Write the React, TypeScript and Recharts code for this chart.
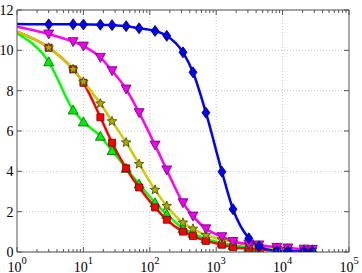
import React from 'react';
import { LineChart, Line, XAxis, YAxis, CartesianGrid, ReferenceLine } from 'recharts';

const X_VALUES = [1, 3, 7, 10, 18, 27, 44, 69, 120, 180, 316, 447, 700, 1220, 1790, 3100, 4400, 8200, 12000, 21000, 28000];
const BLUE = [11.3, 11.29, 11.29, 11.28, 11.27, 11.25, 11.2, 11.09, 10.96, 10.72, 9.9, 8.91, 6.91, 3.98, 2.12, 0.68, 0.28, 0.05, 0.04, 0.03, 0.03];
const MAGENTA = [11.17, 10.81, 10.43, 10.21, 9.65, 8.99, 8.08, 6.91, 5.3, 4.07, 2.44, 1.78, 1.15, 0.76, 0.52, 0.4, 0.35, 0.23, 0.2, 0.14, 0.13];
const YELLOW = [10.92, 10.13, 9.06, 8.44, 7.36, 6.48, 5.43, 4.36, 3.08, 2.28, 1.45, 1.15, 0.84, 0.62, 0.5, 0.36, 0.3, 0.2, 0.16, 0.12, 0.11];
const RED = [10.92, 10.13, 9.06, 8.39, 6.68, 5.42, 4.15, 3.2, 2.21, 1.6, 1.01, 0.79, 0.55, 0.36, 0.24, 0.16, 0.13, 0.08, 0.06, 0.05, 0.05];
const GREEN = [10.84, 9.43, 7.04, 6.45, 5.74, 5.03, 4.15, 3.37, 2.44, 1.87, 1.17, 0.93, 0.65, 0.45, 0.33, 0.23, 0.18, 0.12, 0.09, 0.07, 0.06];

const MAJOR_X = [1, 10, 100, 1000, 10000, 100000];
const X_EXPONENTS = ['0', '1', '2', '3', '4', '5'];
const MINOR_X = [
  2, 3, 4, 5, 6, 7, 8, 9,
  20, 30, 40, 50, 60, 70, 80, 90,
  200, 300, 400, 500, 600, 700, 800, 900,
  2000, 3000, 4000, 5000, 6000, 7000, 8000, 9000,
  20000, 30000, 40000, 50000, 60000, 70000, 80000, 90000,
];
const ALL_X_TICKS = [...MAJOR_X, ...MINOR_X].sort((a, b) => a - b);
const GRID_X = [10, 100, 1000, 10000];
const Y_TICKS = [0, 2, 4, 6, 8, 10, 12];
const Y_LABELS = ['0', '2', '4', '6', '8', '10', '12'];

const data = X_VALUES.map((x, i) => ({
  x,
  blue: BLUE[i],
  magenta: MAGENTA[i],
  yellow: YELLOW[i],
  red: RED[i],
  green: GREEN[i],
}));

const FONT = "'Liberation Serif', 'Times New Roman', serif";
const AXIS_COLOR = '#555555';
const GRID_COLOR = '#c4c4c4';

function XTick(props: any) {
  const { x, y, payload, side } = props;
  const v = payload.value;
  const idx = MAJOR_X.indexOf(v);
  const major = idx >= 0;
  const len = major ? 5 : 3;
  const dir = side === 'top' ? 1 : -1;
  return (
    <g>
      <line x1={x} y1={y} x2={x} y2={y + dir * len} stroke={AXIS_COLOR} strokeWidth={1} />
      {major && side !== 'top' && (
        <text x={x} y={y + 19.5} textAnchor="middle" fontFamily={FONT} fontSize={14} fill="#000">
          10<tspan dy={-8} fontSize={10.5}>{X_EXPONENTS[idx]}</tspan>
        </text>
      )}
    </g>
  );
}

function YTick(props: any) {
  const { x, y, payload, side } = props;
  const idx = Y_TICKS.indexOf(payload.value);
  const dir = side === 'right' ? -1 : 1;
  return (
    <g>
      <line x1={x} y1={y} x2={x + dir * 5} y2={y} stroke={AXIS_COLOR} strokeWidth={1} />
      {side !== 'right' && (
        <text x={x - 3.5} y={y + 5} textAnchor="end" fontFamily={FONT} fontSize={14} fill="#000">
          {Y_LABELS[idx]}
        </text>
      )}
    </g>
  );
}

type Shape = 'diamond' | 'down' | 'up' | 'square' | 'star';

function starPoints(cx: number, cy: number, ro: number, ri: number) {
  const pts: string[] = [];
  for (let k = 0; k < 10; k++) {
    const r = k % 2 === 0 ? ro : ri;
    const a = -Math.PI / 2 + (k * Math.PI) / 5;
    pts.push(`${cx + r * Math.cos(a)},${cy + r * Math.sin(a)}`);
  }
  return pts.join(' ');
}

function makeDot(shape: Shape, fill: string, edge: string) {
  return (p: any) => {
    const { cx, cy, index } = p;
    const key = `m-${shape}-${index}`;
    if (index === 0 || cx == null || cy == null) return <g key={key} />;
    let pts = '';
    if (shape === 'diamond') pts = `${cx},${cy - 5.5} ${cx + 4},${cy} ${cx},${cy + 5.5} ${cx - 4},${cy}`;
    if (shape === 'down') pts = `${cx - 5},${cy - 4} ${cx + 5},${cy - 4} ${cx},${cy + 5}`;
    if (shape === 'up') pts = `${cx - 5},${cy + 4} ${cx + 5},${cy + 4} ${cx},${cy - 5}`;
    if (shape === 'square') pts = `${cx - 3.5},${cy - 3.5} ${cx + 3.5},${cy - 3.5} ${cx + 3.5},${cy + 3.5} ${cx - 3.5},${cy + 3.5}`;
    if (shape === 'star') pts = starPoints(cx, cy, 5, 2.2);
    return <polygon key={key} points={pts} fill={fill} stroke={edge} strokeWidth={0.8} />;
  };
}

export default function App() {
  return (
    <div style={{ position: 'absolute', left: 0, top: 0, width: 362, height: 273, background: '#fff' }}>
      <LineChart width={362} height={273} data={data} margin={{ top: 0, right: 0, bottom: 0, left: 0 }}>
        <CartesianGrid vertical={false} stroke={GRID_COLOR} strokeDasharray="1 2" />
        {GRID_X.map((g) => (
          <ReferenceLine key={`g${g}`} x={g} stroke={GRID_COLOR} strokeDasharray="1 2" />
        ))}
        <XAxis
          dataKey="x"
          type="number"
          scale="log"
          domain={[1, 100000]}
          allowDataOverflow
          ticks={ALL_X_TICKS}
          interval={0}
          height={21}
          tickSize={0}
          tickMargin={0}
          tickLine={false}
          axisLine={{ stroke: AXIS_COLOR }}
          tick={(p: any) => <XTick {...p} side="bottom" />}
        />
        <XAxis
          xAxisId="top"
          orientation="top"
          dataKey="x"
          type="number"
          scale="log"
          domain={[1, 100000]}
          allowDataOverflow
          ticks={ALL_X_TICKS}
          interval={0}
          height={10}
          tickSize={0}
          tickMargin={0}
          tickLine={false}
          axisLine={{ stroke: AXIS_COLOR }}
          tick={(p: any) => <XTick {...p} side="top" />}
        />
        <YAxis
          type="number"
          domain={[0, 12]}
          allowDataOverflow
          ticks={Y_TICKS}
          interval={0}
          width={17}
          tickSize={0}
          tickMargin={0}
          tickLine={false}
          axisLine={{ stroke: AXIS_COLOR }}
          tick={(p: any) => <YTick {...p} side="left" />}
        />
        <YAxis
          yAxisId="right"
          orientation="right"
          type="number"
          domain={[0, 12]}
          allowDataOverflow
          ticks={Y_TICKS}
          interval={0}
          width={13}
          tickSize={0}
          tickMargin={0}
          tickLine={false}
          axisLine={{ stroke: AXIS_COLOR }}
          tick={(p: any) => <YTick {...p} side="right" />}
        />
        <Line dataKey="green" type="monotone" stroke="#00ff00" strokeWidth={2.5} dot={makeDot('up', '#00ee00', '#006600')} activeDot={false} isAnimationActive={false} />
        <Line dataKey="red" type="monotone" stroke="#ff0000" strokeWidth={2.5} dot={makeDot('square', '#ff0000', '#770000')} activeDot={false} isAnimationActive={false} />
        <Line dataKey="yellow" type="monotone" stroke="#cccc00" strokeWidth={2.5} dot={makeDot('star', '#aaaa00', '#444400')} activeDot={false} isAnimationActive={false} />
        <Line dataKey="magenta" type="monotone" stroke="#ff00ff" strokeWidth={2.5} dot={makeDot('down', '#ee00ee', '#660066')} activeDot={false} isAnimationActive={false} />
        <Line dataKey="blue" type="monotone" stroke="#0000ff" strokeWidth={2.5} dot={makeDot('diamond', '#0000ee', '#000055')} activeDot={false} isAnimationActive={false} />
      </LineChart>
    </div>
  );
}
